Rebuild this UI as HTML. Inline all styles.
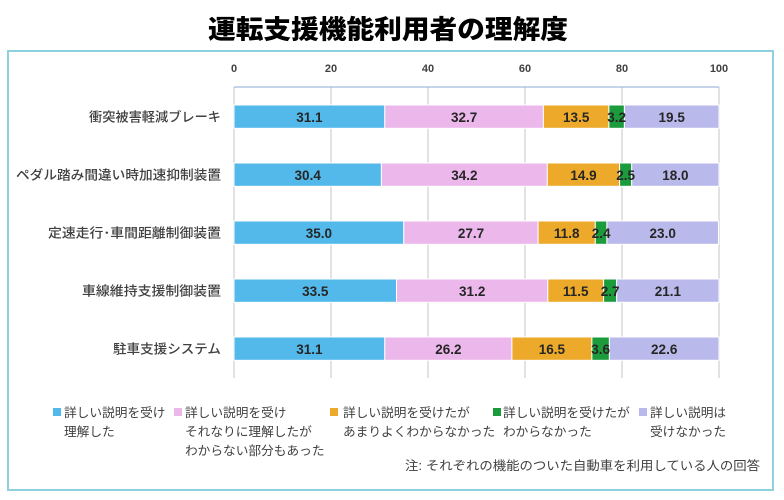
<!DOCTYPE html>
<html><head><meta charset="utf-8"><style>
html,body{margin:0;padding:0;background:#fff;}
svg{display:block;}
text{font-family:"Liberation Sans","Noto Sans CJK JP",sans-serif;}
.cat{font-size:13px;fill:#404040;font-weight:500;}
.tick{font-size:11px;font-weight:bold;fill:#404040;}
.val{font-size:13.5px;font-weight:bold;fill:#262626;}
.leg{font-size:12.7px;fill:#404040;}
</style></head><body>
<svg width="784" height="500" viewBox="0 0 784 500" xmlns="http://www.w3.org/2000/svg">
<rect width="784" height="500" fill="#fff"/>
<text x="388" y="28" text-anchor="middle" dominant-baseline="central" font-size="26" font-weight="900" fill="#000" textLength="360" lengthAdjust="spacingAndGlyphs" style="font-family:'Noto Sans CJK JP',sans-serif">運転支援機能利用者の理解度</text>
<rect x="8" y="51" width="765" height="439" fill="#fff" stroke="#8fd0e0" stroke-width="2"/>

<!-- ticks -->
<g class="tick" text-anchor="middle">
<text x="234" y="72">0</text>
<text x="331" y="72">20</text>
<text x="428" y="72">40</text>
<text x="525" y="72">60</text>
<text x="622" y="72">80</text>
<text x="719" y="72">100</text>
</g>
<!-- gridlines -->
<g stroke="#d9d9d9" stroke-width="1.5">
<line x1="234" y1="87" x2="234" y2="378"/>
<line x1="331" y1="87" x2="331" y2="378"/>
<line x1="428" y1="87" x2="428" y2="378"/>
<line x1="525" y1="87" x2="525" y2="378"/>
<line x1="622" y1="87" x2="622" y2="378"/>
<line x1="719" y1="87" x2="719" y2="378"/>
</g>
<line x1="234" y1="87" x2="719" y2="87" stroke="#8ea9d4" stroke-width="1"/>

<!-- category labels -->
<g class="cat" text-anchor="end" dominant-baseline="central">
<text x="221" y="117" textLength="132" lengthAdjust="spacingAndGlyphs">衝突被害軽減ブレーキ</text>
<text x="221" y="175" textLength="205" lengthAdjust="spacingAndGlyphs">ペダル踏み間違い時加速抑制装置</text>
<text x="221" y="233" textLength="173" lengthAdjust="spacingAndGlyphs">定速走行･車間距離制御装置</text>
<text x="221" y="291" textLength="139" lengthAdjust="spacingAndGlyphs">車線維持支援制御装置</text>
<text x="221" y="349" textLength="108" lengthAdjust="spacingAndGlyphs">駐車支援システム</text>
</g>

<!-- bars: scale 4.85 px/unit, origin 234 -->
<g stroke="#fff" stroke-width="1">
<!-- row1 31.1 32.7 13.5 3.2 19.5 -->
<rect x="234" y="105" width="150.8" height="23.3" fill="#53b8ea"/>
<rect x="384.8" y="105" width="158.6" height="23.3" fill="#ecb8ec"/>
<rect x="543.4" y="105" width="65.5" height="23.3" fill="#eca92a"/>
<rect x="608.9" y="105" width="15.5" height="23.3" fill="#1b9b3b"/>
<rect x="624.4" y="105" width="94.6" height="23.3" fill="#b9b9ec"/>
<!-- row2 30.4 34.2 14.9 2.5 18.0 -->
<rect x="234" y="163" width="147.4" height="23.3" fill="#53b8ea"/>
<rect x="381.4" y="163" width="165.9" height="23.3" fill="#ecb8ec"/>
<rect x="547.3" y="163" width="72.3" height="23.3" fill="#eca92a"/>
<rect x="619.6" y="163" width="12.1" height="23.3" fill="#1b9b3b"/>
<rect x="631.7" y="163" width="87.3" height="23.3" fill="#b9b9ec"/>
<!-- row3 35.0 27.7 11.8 2.4 23.0 -->
<rect x="234" y="221" width="169.8" height="23.3" fill="#53b8ea"/>
<rect x="403.8" y="221" width="134.3" height="23.3" fill="#ecb8ec"/>
<rect x="538.1" y="221" width="57.2" height="23.3" fill="#eca92a"/>
<rect x="595.3" y="221" width="11.6" height="23.3" fill="#1b9b3b"/>
<rect x="606.9" y="221" width="111.6" height="23.3" fill="#b9b9ec"/>
<!-- row4 33.5 31.2 11.5 2.7 21.1 -->
<rect x="234" y="279" width="162.5" height="23.3" fill="#53b8ea"/>
<rect x="396.5" y="279" width="151.3" height="23.3" fill="#ecb8ec"/>
<rect x="547.8" y="279" width="55.8" height="23.3" fill="#eca92a"/>
<rect x="603.6" y="279" width="13.1" height="23.3" fill="#1b9b3b"/>
<rect x="616.7" y="279" width="102.3" height="23.3" fill="#b9b9ec"/>
<!-- row5 31.1 26.2 16.5 3.6 22.6 -->
<rect x="234" y="337" width="150.8" height="23.3" fill="#53b8ea"/>
<rect x="384.8" y="337" width="127.1" height="23.3" fill="#ecb8ec"/>
<rect x="511.9" y="337" width="80.0" height="23.3" fill="#eca92a"/>
<rect x="591.9" y="337" width="17.5" height="23.3" fill="#1b9b3b"/>
<rect x="609.4" y="337" width="109.6" height="23.3" fill="#b9b9ec"/>
</g>

<!-- values -->
<g class="val" text-anchor="middle" dominant-baseline="central">
<text x="309.4" y="117.5">31.1</text><text x="464.1" y="117.5">32.7</text><text x="576.2" y="117.5">13.5</text><text x="616.7" y="117.5">3.2</text><text x="671.7" y="117.5">19.5</text>
<text x="307.7" y="175.5">30.4</text><text x="464.4" y="175.5">34.2</text><text x="583.5" y="175.5">14.9</text><text x="625.7" y="175.5">2.5</text><text x="675.4" y="175.5">18.0</text>
<text x="318.9" y="233.5">35.0</text><text x="471.0" y="233.5">27.7</text><text x="566.7" y="233.5">11.8</text><text x="601.1" y="233.5">2.4</text><text x="662.7" y="233.5">23.0</text>
<text x="315.3" y="291.5">33.5</text><text x="472.2" y="291.5">31.2</text><text x="575.7" y="291.5">11.5</text><text x="610.2" y="291.5">2.7</text><text x="667.9" y="291.5">21.1</text>
<text x="309.4" y="349.5">31.1</text><text x="448.4" y="349.5">26.2</text><text x="551.9" y="349.5">16.5</text><text x="600.7" y="349.5">3.6</text><text x="664.2" y="349.5">22.6</text>
</g>

<!-- legend -->
<rect x="53" y="408" width="8" height="8" fill="#53b8ea"/>
<rect x="174" y="408" width="8" height="8" fill="#ecb8ec"/>
<rect x="330" y="408" width="8" height="8" fill="#eca92a"/>
<rect x="493" y="408" width="8" height="8" fill="#1b9b3b"/>
<rect x="639" y="408" width="8" height="8" fill="#b9b9ec"/>
<g class="leg" dominant-baseline="central">
<text x="64" y="413">詳しい説明を受け</text>
<text x="64" y="432">理解した</text>
<text x="185" y="413">詳しい説明を受け</text>
<text x="185" y="432">それなりに理解したが</text>
<text x="185" y="451">わからない部分もあった</text>
<text x="343" y="413">詳しい説明を受けたが</text>
<text x="343" y="432">あまりよくわからなかった</text>
<text x="503" y="413">詳しい説明を受けたが</text>
<text x="503" y="432">わからなかった</text>
<text x="650" y="413">詳しい説明は</text>
<text x="650" y="432">受けなかった</text>
<text x="405" y="466" textLength="355" lengthAdjust="spacingAndGlyphs">注:  それぞれの機能のついた自動車を利用している人の回答</text>
</g>
</svg>
</body></html>
